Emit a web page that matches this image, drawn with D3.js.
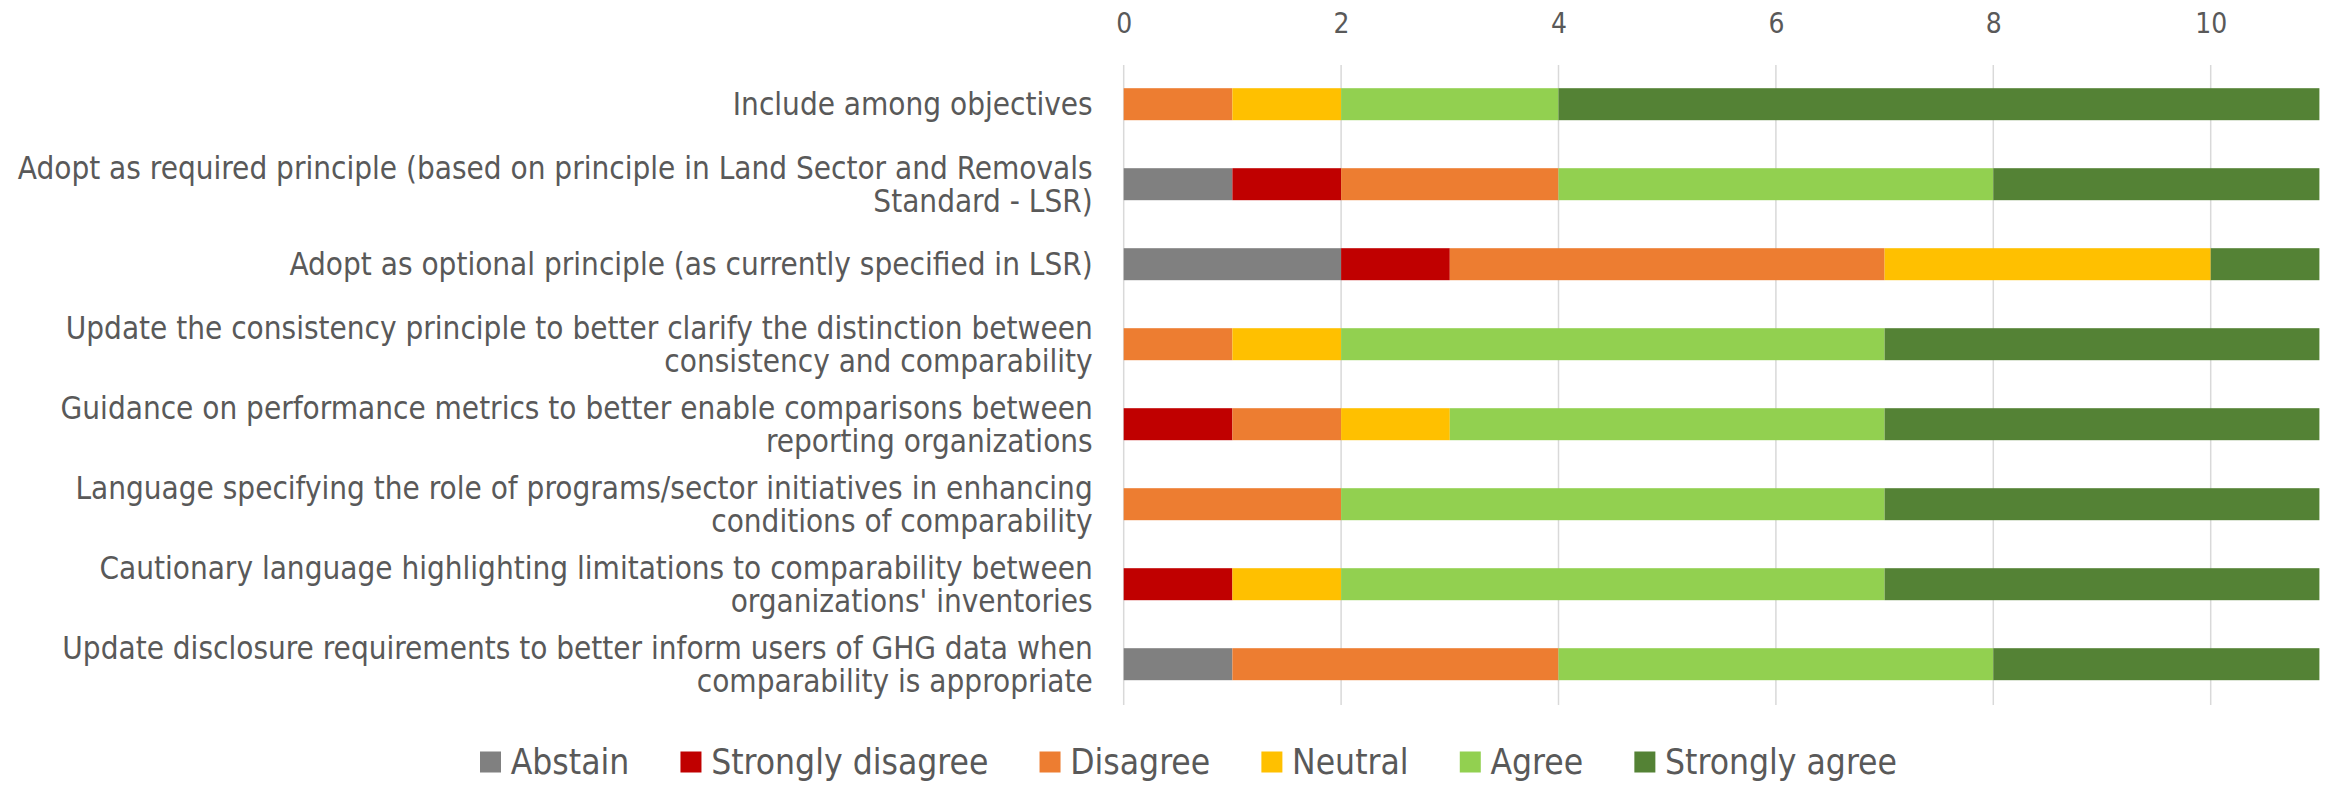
<!DOCTYPE html>
<html>
<head>
<meta charset="utf-8">
<script src="https://cdn.jsdelivr.net/npm/d3@7"></script>
<style>
  html, body { margin: 0; padding: 0; background: #fff; }
  svg { display: block; }
  text { font-family: "DejaVu Sans Condensed", "DejaVu Sans", sans-serif; font-stretch: condensed; fill: #595959; }
</style>
</head>
<body>
<svg id="chart" width="2328" height="785"></svg>
<script>
const categories = [
  "Include among objectives",
  "Adopt as required principle (based on principle in Land Sector and Removals\nStandard - LSR)",
  "Adopt as optional principle (as currently specified in LSR)",
  "Update the consistency principle to better clarify the distinction between\nconsistency and comparability",
  "Guidance on performance metrics to better enable comparisons between\nreporting organizations",
  "Language specifying the role of programs/sector initiatives in enhancing\nconditions of comparability",
  "Cautionary language highlighting limitations to comparability between\norganizations' inventories",
  "Update disclosure requirements to better inform users of GHG data when\ncomparability is appropriate"
];
const seriesNames = ["Abstain", "Strongly disagree", "Disagree", "Neutral", "Agree", "Strongly agree"];
const abstain          = [0, 1, 2, 0, 0, 0, 0, 1];
const stronglyDisagree = [0, 1, 1, 0, 1, 0, 1, 0];
const disagree         = [1, 2, 4, 1, 1, 2, 0, 3];
const neutral          = [1, 0, 3, 1, 1, 0, 1, 0];
const agree            = [2, 4, 0, 5, 4, 5, 5, 4];
const stronglyAgree    = [7, 3, 1, 4, 4, 4, 4, 3];
const tickValues = [0, 2, 4, 6, 8, 10];
const colors = ["#808080", "#c00000", "#ed7d31", "#ffc000", "#92d050", "#548235"];

const seriesValues = [abstain, stronglyDisagree, disagree, neutral, agree, stronglyAgree];
const table = categories.map((c, i) => {
  const row = { category: c };
  seriesNames.forEach((s, j) => row[s] = seriesValues[j][i]);
  return row;
});

const svg = d3.select("#chart");

function fitSize(str, target, base) {
  const t = svg.append("text").attr("font-size", base).text(str);
  const w = t.node().getComputedTextLength();
  t.remove();
  return base * target / w;
}
const labelSize = fitSize("Include among objectives", 360, 30);
const tickSize = fitSize("10", 32, 30);
const legendSize = fitSize("Strongly agree", 232, 30);

const x = d3.scaleLinear().domain([0, 11]).range([1123.7, 2319.4]);
const y = d3.scaleBand().domain(categories).range([64.2, 704.2]).paddingInner(0.6).paddingOuter(0.3);

// gridlines
svg.append("g").selectAll("line").data(tickValues).join("line")
  .attr("x1", d => x(d)).attr("x2", d => x(d))
  .attr("y1", 65).attr("y2", 705)
  .attr("stroke", "#d9d9d9").attr("stroke-width", 1.5);

// top axis labels
const ax = svg.append("g").attr("transform", "translate(0,33.3)")
  .call(d3.axisTop(x).tickValues(tickValues).tickSize(0).tickPadding(0));
ax.select(".domain").remove();
ax.selectAll("text").attr("font-size", tickSize).attr("fill", "#595959")
  .style("font-family", '"DejaVu Sans Condensed", "DejaVu Sans", sans-serif')
  .attr("dy", 0);

// bars
const stack = d3.stack().keys(seriesNames)(table);
svg.append("g").selectAll("g").data(stack).join("g")
  .attr("fill", (d, i) => colors[i])
  .selectAll("rect").data(d => d).join("rect")
  .attr("x", d => x(d[0]))
  .attr("width", d => x(d[1]) - x(d[0]))
  .attr("y", d => y(d.data.category))
  .attr("height", y.bandwidth());

// category labels
const lineGap = 32.3;
const lab = svg.append("g").selectAll("text").data(categories).join("text")
  .attr("text-anchor", "end")
  .attr("font-size", labelSize)
  .attr("transform", d => `translate(1092.7,${y(d) + y.bandwidth() / 2})`);
lab.each(function(d) {
  const lines = d.split("\n");
  const off = -(lines.length - 1) * lineGap / 2;
  d3.select(this).selectAll("tspan").data(lines).join("tspan")
    .attr("x", 0)
    .attr("y", (l, i) => off + i * lineGap)
    .attr("dy", "0.36em")
    .text(l => l);
});

// legend
const legCenter = 762;
const legend = svg.append("g");
const items = legend.selectAll("g").data(seriesNames).join("g");
items.append("rect").attr("width", 21).attr("height", 21).attr("y", legCenter - 10.5)
  .attr("fill", (d, i) => colors[i]);
items.append("text").attr("font-size", legendSize).attr("x", 30.7).attr("y", legCenter)
  .attr("dy", "0.34em").text(d => d);
const widths = [];
items.each(function() {
  widths.push(30.7 + d3.select(this).select("text").node().getComputedTextLength());
});
const legStart = 480, legEnd = 1897;
const gap = (legEnd - legStart - d3.sum(widths)) / (widths.length - 1);
let cx = legStart;
const pos = widths.map(w => { const p = cx; cx += w + gap; return p; });
items.attr("transform", (d, i) => `translate(${pos[i]},0)`);
</script>
</body>
</html>
